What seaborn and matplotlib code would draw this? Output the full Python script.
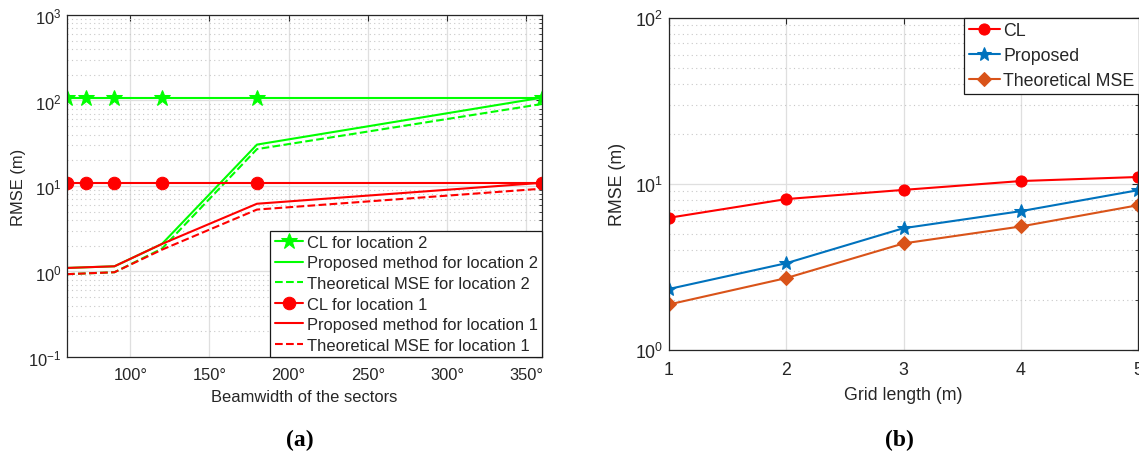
import numpy as np
import seaborn as sns
import matplotlib
matplotlib.use('Agg')
import matplotlib.pyplot as plt
from matplotlib.ticker import LogLocator, FixedLocator, FixedFormatter, NullFormatter

# panel (a): beamwidth of the sectors
beam = [60, 72, 90, 120, 180, 360]
cl_loc2 = [108, 108, 108, 108, 108, 108]
prop_loc2 = [1.1, 1.12, 1.15, 2.1, 30.5, 108]
theo_loc2 = [0.93, 0.95, 0.98, 1.85, 27, 91]
cl_loc1 = [10.9, 10.9, 10.9, 10.9, 10.9, 10.9]
prop_loc1 = [1.1, 1.12, 1.15, 2.1, 6.2, 10.9]
theo_loc1 = [0.93, 0.95, 0.98, 1.8, 5.3, 9.3]
beam_ticks = [100, 150, 200, 250, 300, 350]

# panel (b): grid length
grid_len = [1, 2, 3, 4, 5]
cl_grid = [6.25, 8.1, 9.2, 10.4, 11.0]
prop_grid = [2.33, 3.33, 5.41, 6.85, 9.16]
theo_grid = [1.88, 2.71, 4.38, 5.54, 7.44]

sns.set_style('white')
plt.rcParams['font.family'] = ['Liberation Sans', 'DejaVu Sans']
plt.rcParams['mathtext.fontset'] = 'custom'
plt.rcParams['mathtext.rm'] = 'Liberation Sans'
plt.rcParams['mathtext.it'] = 'Liberation Sans:italic'

txt = '#262626'
green = '#00FF00'
red = '#FF0000'
blue = '#0072BD'
orange = '#D95319'


def style_axes(ax, fs, xpad):
    ax.set_yscale('log')
    ax.yaxis.set_major_locator(LogLocator(base=10, numticks=10))
    ax.yaxis.set_minor_locator(LogLocator(base=10, subs=np.arange(2, 10), numticks=10))
    ax.yaxis.set_minor_formatter(NullFormatter())
    ax.grid(True, which='major', color='#DFDFDF', linewidth=0.9, linestyle='-')
    ax.grid(True, which='minor', axis='y', color='#C8C8C8', linewidth=0.8, linestyle=(0, (1, 3)))
    ax.set_axisbelow(True)
    ax.tick_params(which='both', direction='in', top=True, right=True, colors=txt,
                   labelsize=fs, labelcolor=txt)
    ax.tick_params(which='major', length=4)
    ax.tick_params(which='minor', length=2.5)
    ax.tick_params(axis='x', pad=xpad)
    ax.tick_params(axis='y', pad=4)
    for s in ax.spines.values():
        s.set_color(txt)
        s.set_linewidth(0.9)


def make_legend(ax, fs, spacing, **kw):
    leg = ax.legend(borderaxespad=0, fontsize=fs, frameon=True, fancybox=False,
                    framealpha=1, edgecolor='#1a1a1a', handlelength=1.75,
                    handletextpad=0.2, labelspacing=spacing, borderpad=0.25, **kw)
    leg.get_frame().set_linewidth(0.9)
    return leg


fig = plt.figure(figsize=(11.39, 4.52), dpi=100)
ax1 = fig.add_axes([0.0588, 0.208, 0.417, 0.7566])
ax2 = fig.add_axes([0.5874, 0.2235, 0.4118, 0.735])

FS1 = 11.9
sns.lineplot(x=beam, y=cl_loc2, ax=ax1, color=green, marker='*', markersize=12,
             markeredgecolor=green, linewidth=1.5, label='CL for location 2')
sns.lineplot(x=beam, y=prop_loc2, ax=ax1, color=green, linewidth=1.5,
             label='Proposed method for location 2')
sns.lineplot(x=beam, y=theo_loc2, ax=ax1, color=green, linewidth=1.5, linestyle='--',
             dashes=(4, 3), label='Theoretical MSE for location 2')
sns.lineplot(x=beam, y=cl_loc1, ax=ax1, color=red, marker='o', markersize=9,
             markeredgecolor=red, linewidth=1.5, label='CL for location 1')
sns.lineplot(x=beam, y=prop_loc1, ax=ax1, color=red, linewidth=1.5,
             label='Proposed method for location 1')
sns.lineplot(x=beam, y=theo_loc1, ax=ax1, color=red, linewidth=1.5, linestyle='--',
             dashes=(4, 3), label='Theoretical MSE for location 1')

style_axes(ax1, FS1, xpad=7)
ax1.set_xlim(60, 360)
ax1.set_ylim(0.1, 1000)
ax1.xaxis.set_major_locator(FixedLocator(beam_ticks))
ax1.xaxis.set_major_formatter(FixedFormatter([f'{b}°' for b in beam_ticks]))
ax1.set_xlabel('Beamwidth of the sectors', fontsize=FS1, color=txt, labelpad=5)
ax1.set_ylabel('RMSE (m)', fontsize=FS1, color=txt)
ax1.yaxis.set_label_coords(-0.086, 0.5)
make_legend(ax1, FS1, 0.34, loc='lower right', bbox_to_anchor=(1.0, 0.0))

FS2 = 12.8
sns.lineplot(x=grid_len, y=cl_grid, ax=ax2, color=red, marker='o', markersize=8,
             markeredgecolor=red, linewidth=1.5, label='CL')
sns.lineplot(x=grid_len, y=prop_grid, ax=ax2, color=blue, marker='*', markersize=10,
             markeredgecolor=blue, linewidth=1.5, label='Proposed')
sns.lineplot(x=grid_len, y=theo_grid, ax=ax2, color=orange, marker='D', markersize=7,
             markeredgecolor=orange, linewidth=1.5, label='Theoretical MSE')

style_axes(ax2, FS2, xpad=8)
ax2.set_xlim(1, 5)
ax2.set_ylim(1, 100)
ax2.set_xticks(grid_len)
ax2.set_xlabel('Grid length (m)', fontsize=FS2, color=txt, labelpad=6)
ax2.set_ylabel('RMSE (m)', fontsize=FS2, color=txt)
ax2.yaxis.set_label_coords(-0.092, 0.5)
make_legend(ax2, FS2, 0.45, loc='upper left', bbox_to_anchor=(0.629, 1.0))

fig.text(300 / 1139, 1 - 440 / 452, '(a)', ha='center', va='center', fontsize=17,
         fontweight='bold', family=['Liberation Serif', 'DejaVu Serif'], color='black')
fig.text(899 / 1139, 1 - 440 / 452, '(b)', ha='center', va='center', fontsize=17,
         fontweight='bold', family=['Liberation Serif', 'DejaVu Serif'], color='black')

fig.savefig('out.png', dpi=100)
